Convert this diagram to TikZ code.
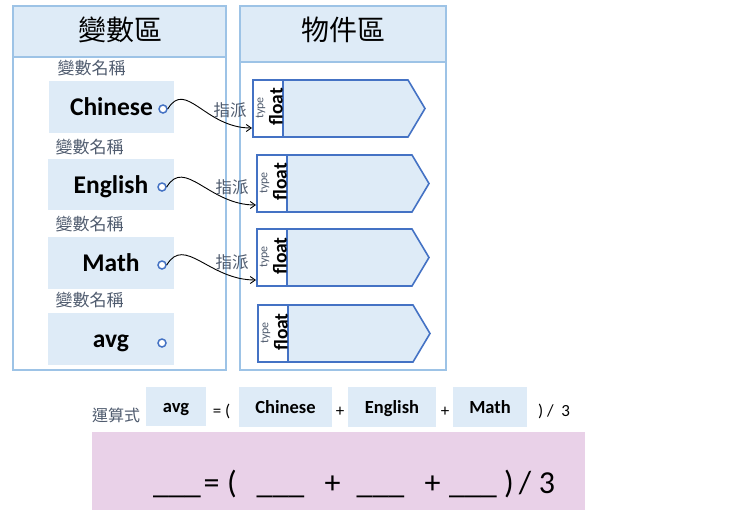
\documentclass[tikz,border=0pt]{standalone}
\usepackage{fontspec}
\setmainfont{Carlito}
\newfontfamily\cjk{Noto Sans CJK TC}
\usetikzlibrary{arrows.meta}
\definecolor{lb}{HTML}{DEEBF7}
\definecolor{panelb}{HTML}{9DC3E6}
\definecolor{objb}{HTML}{4472C4}
\definecolor{gb}{HTML}{4F5B6E}
\definecolor{pinkbg}{HTML}{E9D1E8}
\tikzset{
  panel/.style={draw=panelb, line width=1.1pt},
  hdrtxt/.style={font=\cjk\fontsize{28}{30}\selectfont, inner sep=0},
  lbl/.style={font=\cjk\fontsize{16.5}{18}\selectfont, text=gb, inner sep=0},
  varbox/.style={fill=lb, font=\bfseries\fontsize{25.5}{28}\selectfont, inner sep=0, text height=17.6pt, text depth=0pt},
  port/.style={circle, draw=objb, line width=1.5pt, fill=white, inner sep=0, minimum size=8pt},
  objbody/.style={draw=objb, fill=lb, line width=1.6pt, line join=miter},
  typebox/.style={draw=objb, fill=white, line width=1.6pt, inner sep=0},
  conn/.style={black, line width=0.9pt, -{Straight Barb[length=5pt,width=7pt]}},
  eqbox/.style={fill=lb, font=\bfseries\fontsize{18.5}{20}\selectfont, inner sep=0, text height=12.8pt, text depth=0pt},
  eqtxt/.style={font=\fontsize{17}{19}\selectfont, inner sep=0},
  bigtxt/.style={font=\fontsize{32}{34}\selectfont, inner sep=0, anchor=base}
}
\begin{document}
\begin{tikzpicture}[x=1pt,y=-1pt]
\useasboundingbox (0,0) rectangle (741,522);
% panels
\draw[panel] (13,6) rectangle (226,370);
\filldraw[panel, fill=lb] (13,6) rectangle (226,57);
\draw[panel] (240,6) rectangle (446,370);
\filldraw[panel, fill=lb] (240,6) rectangle (446,62);
\node[hdrtxt] (varhdr) at (120,30) {變數區};
\node[hdrtxt] (objhdr) at (343,30) {物件區};
% variable labels
\node[lbl, font=\cjk\fontsize{17}{18}\selectfont] (n1) at (91.5,68) {變數名稱};
\node[lbl, font=\cjk\fontsize{17}{18}\selectfont] (n2) at (89.5,147) {變數名稱};
\node[lbl, font=\cjk\fontsize{17}{18}\selectfont] (n3) at (89.5,224) {變數名稱};
\node[lbl, font=\cjk\fontsize{17}{18}\selectfont] (n4) at (89.5,300) {變數名稱};
% variable boxes
\node[varbox, minimum width=125pt, minimum height=52pt] (chn) at (111.5,107) {Chinese};
\node[varbox, minimum width=126pt, minimum height=51pt] (eng) at (111,184.5) {English};
\node[varbox, minimum width=126pt, minimum height=52pt] (mat) at (111,263) {Math};
\node[varbox, minimum width=126pt, minimum height=52pt] (avg) at (111,339) {avg};
\node[port] (c1) at (163,109) {};
\node[port] (c2) at (162,187) {};
\node[port] (c3) at (162,265) {};
\node[port] (c4) at (162,343) {};
% object boxes
\foreach \x/\y/\n in {253/80/1, 257/155/2, 257/229/3, 258/305/4} {
  \filldraw[objbody] (\x+30,\y) -- (\x+155,\y) -- (\x+172,\y+28.5) -- (\x+155,\y+57) -- (\x+30,\y+57) -- cycle;
  \node[typebox, minimum width=30pt, minimum height=57pt] (t\n) at (\x+15,\y+28.5) {};
  \node[rotate=90, font=\fontsize{12}{13}\selectfont, text=gb, inner sep=0] (ty\n) at (\x+7.5,\y+28) {type};
  \node[rotate=90, font=\bfseries\fontsize{19.5}{20}\selectfont, inner sep=0] (fl\n) at (\x+23,\y+27) {float};
}
\coordinate (e1) at (252,128);
\coordinate (e2) at (256,205);
\coordinate (e3) at (256,280);
\draw[conn] (c1.east) .. controls +(18,-30) and +(-47,0) .. (e1);
\draw[conn] (c2.east) .. controls +(18,-30) and +(-47,0) .. (e2);
\draw[conn] (c3.east) .. controls +(18,-30) and +(-47,0) .. (e3);
\node[lbl] (a1) at (230,110) {指派};
\node[lbl] (a2) at (232,187) {指派};
\node[lbl] (a3) at (232,262) {指派};
% formula row
\node[lbl, font=\cjk\fontsize{16}{18}\selectfont] (yss) at (116,415) {運算式};
\node[eqbox, minimum width=60pt, minimum height=39pt] (bavg) at (176,406.5) {avg};
\node[eqtxt] (eq1) at (221.5,411) {= (};
\node[eqbox, minimum width=93pt, minimum height=40pt] (bchn) at (285.5,407) {Chinese};
\node[eqtxt] (p1) at (340,412) {+};
\node[eqbox, minimum width=88pt, minimum height=40pt] (beng) at (392,407) {English};
\node[eqtxt] (p2) at (445,412) {+};
\node[eqbox, minimum width=74pt, minimum height=40pt] (bmat) at (490,407) {Math};
\node[eqtxt] (div) at (554,411) {) /\ \ 3};
% pink answer box
\fill[pinkbg] (92,432) rectangle (585,510);
\node[bigtxt] (k1) at (177,493) {\_\_\_};
\node[bigtxt] (k2) at (211.5,493) {=};
\node[bigtxt] (k3) at (232,493) {(};
\node[bigtxt] (k4) at (280.5,493) {\_\_\_};
\node[bigtxt] (k5) at (332.5,493) {+};
\node[bigtxt] (k6) at (380.5,493) {\_\_\_};
\node[bigtxt] (k7) at (432.5,493) {+};
\node[bigtxt] (k8) at (473,493) {\_\_\_};
\node[bigtxt] (k9) at (509,493) {)};
\node[bigtxt] (k10) at (525,493) {/};
\node[bigtxt] (k11) at (547,493) {3};
\end{tikzpicture}
\end{document}
